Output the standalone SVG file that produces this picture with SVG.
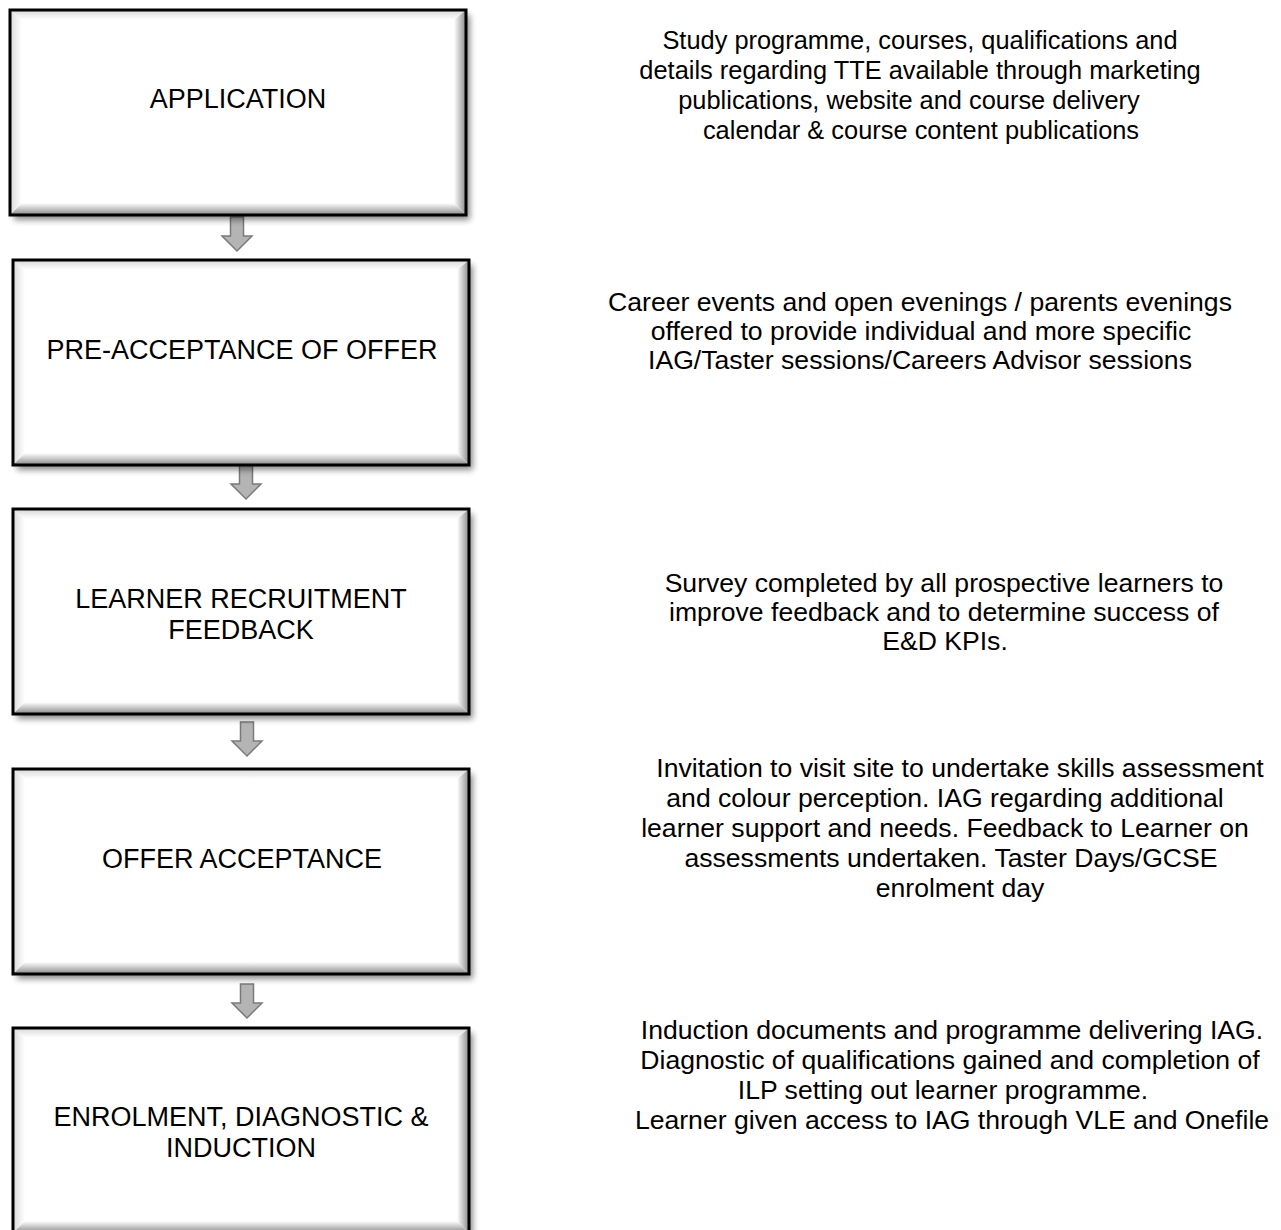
<svg xmlns="http://www.w3.org/2000/svg" width="1281" height="1230" viewBox="0 0 1281 1230">
<defs>
  <style>
    .lbl { font-family: "Liberation Sans", Arial, sans-serif; font-size: 27px; fill: #000; text-anchor: middle; }
    .desc { font-family: "Liberation Sans", Arial, sans-serif; font-size: 26.6px; fill: #000; text-anchor: middle; }
    .desc1 { font-size: 25.4px; }
    .frame { fill: none; stroke: #000; stroke-width: 3; }
    .bg { fill: #fff; }
    .shadow { fill: #000; opacity: 0.45; filter: url(#blur); }
    .arrow { fill: #b4b4b4; stroke: #7a7a7a; stroke-width: 1.5; stroke-linejoin: miter; }
  </style>
  <filter id="blur" x="-10%" y="-10%" width="120%" height="120%">
    <feGaussianBlur stdDeviation="3"/>
  </filter>
  <linearGradient id="gTop" x1="0" y1="0" x2="0" y2="1">
    <stop offset="0" stop-color="#d8d8d8"/>
    <stop offset="1" stop-color="#ffffff"/>
  </linearGradient>
  <linearGradient id="gLeft" x1="0" y1="0" x2="1" y2="0">
    <stop offset="0" stop-color="#dcdcdc"/>
    <stop offset="1" stop-color="#ffffff"/>
  </linearGradient>
  <linearGradient id="gBottom" x1="0" y1="0" x2="0" y2="1">
    <stop offset="0" stop-color="#ffffff"/>
    <stop offset="1" stop-color="#8a8a8a"/>
  </linearGradient>
  <linearGradient id="gRight" x1="0" y1="0" x2="1" y2="0">
    <stop offset="0" stop-color="#ffffff"/>
    <stop offset="1" stop-color="#8a8a8a"/>
  </linearGradient>
  <g id="box">
    <rect class="shadow" x="4" y="5" width="456" height="205"/>
    <rect class="bg" x="0" y="0" width="456" height="205"/>
    <polygon fill="url(#gTop)" points="0,0 456,0 444,10 12,10"/>
    <polygon fill="url(#gLeft)" points="0,0 12,10 12,193 0,205"/>
    <polygon fill="url(#gBottom)" points="0,205 12,193 444,193 456,205"/>
    <polygon fill="url(#gRight)" points="456,0 456,205 444,193 444,10"/>
    <rect class="frame" x="0" y="0" width="456" height="205"/>
  </g>
  <path id="arr" class="arrow" d="M-6.5,0 H6.5 V19 H15 L0,34 L-15,19 H-6.5 Z"/>
</defs>
<rect width="1281" height="1230" fill="#fff"/>

<g id="connectors">
  <use href="#arr" x="237" y="217"/>
  <use href="#arr" x="246" y="465"/>
  <use href="#arr" x="247" y="722"/>
  <use href="#arr" x="247" y="984"/>
</g>

<g id="node-application">
  <use href="#box" x="10" y="10"/>
  <text class="lbl" x="238" y="108">APPLICATION</text>
</g>
<g id="node-pre-acceptance">
  <use href="#box" x="13" y="260"/>
  <text class="lbl" x="242" y="359">PRE-ACCEPTANCE OF OFFER</text>
</g>
<g id="node-feedback">
  <use href="#box" x="13" y="509"/>
  <text class="lbl" x="241" y="608">LEARNER RECRUITMENT</text>
  <text class="lbl" x="241" y="639">FEEDBACK</text>
</g>
<g id="node-offer">
  <use href="#box" x="13" y="769"/>
  <text class="lbl" x="242" y="868">OFFER ACCEPTANCE</text>
</g>
<g id="node-enrolment">
  <use href="#box" x="13" y="1028"/>
  <text class="lbl" x="241" y="1126">ENROLMENT, DIAGNOSTIC &amp;</text>
  <text class="lbl" x="241" y="1157">INDUCTION</text>
</g>

<g id="desc-1">
  <text class="desc desc1" x="920" y="49">Study programme, courses, qualifications and</text>
  <text class="desc desc1" x="920" y="79">details regarding TTE available through marketing</text>
  <text class="desc desc1" x="909" y="109">publications, website and course delivery</text>
  <text class="desc desc1" x="921" y="139">calendar &amp; course content publications</text>
</g>
<g id="desc-2">
  <text class="desc" x="920" y="311">Career events and open evenings / parents evenings</text>
  <text class="desc" x="921" y="340">offered to provide individual and more specific</text>
  <text class="desc" x="920" y="369">IAG/Taster sessions/Careers Advisor sessions</text>
</g>
<g id="desc-3">
  <text class="desc" x="944" y="592">Survey completed by all prospective learners to</text>
  <text class="desc" x="944" y="621">improve feedback and to determine success of</text>
  <text class="desc" x="945" y="650">E&amp;D KPIs.</text>
</g>
<g id="desc-4">
  <text class="desc" x="960" y="777">Invitation to visit site to undertake skills assessment</text>
  <text class="desc" x="945" y="807">and colour perception. IAG regarding additional</text>
  <text class="desc" x="945" y="837">learner support and needs. Feedback to Learner on</text>
  <text class="desc" x="951" y="867">assessments undertaken. Taster Days/GCSE</text>
  <text class="desc" x="960" y="897">enrolment day</text>
</g>
<g id="desc-5">
  <text class="desc" x="952" y="1039">Induction documents and programme delivering IAG.</text>
  <text class="desc" x="950" y="1069">Diagnostic of qualifications gained and completion of</text>
  <text class="desc" x="943" y="1099">ILP setting out learner programme.</text>
  <text class="desc" x="952" y="1129">Learner given access to IAG through VLE and Onefile</text>
</g>
</svg>
